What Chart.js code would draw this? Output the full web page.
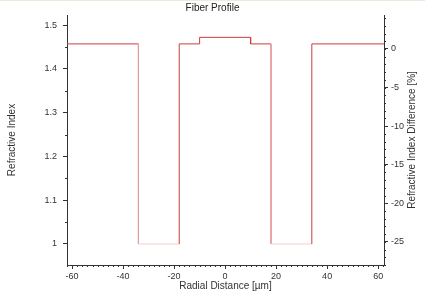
<!DOCTYPE html>
<html>
<head>
<meta charset="utf-8">
<script src="https://cdn.jsdelivr.net/npm/chart.js@4.4.0/dist/chart.umd.min.js"></script>
<style>
  html, body { margin: 0; padding: 0; background: #fff; }
  #wrap { width: 425px; height: 298px; position: relative; border-top: 1px solid #ecebdc; box-sizing: border-box; }
</style>
</head>
<body>
<div id="wrap"><canvas id="profile"></canvas></div>
<script>
// region boundaries (um) and refractive index of each region between them
const radius = [-62, -34, -18, -10, 10, 18, 34, 62.3];
const index = [1.457, 1.0, 1.457, 1.472, 1.457, 1.0, 1.457];

// tick labels
const xTicks = [-60, -40, -20, 0, 20, 40, 60];
const yTicks = [1.0, 1.1, 1.2, 1.3, 1.4, 1.5];
const y2Ticks = [-25, -20, -15, -10, -5, 0];

// minor ticks
const xMinor = [];
for (let v = -62; v <= 62; v += 2) xMinor.push(v);
const yMinor = [0.95, 1.05, 1.15, 1.25, 1.35, 1.45];
const y2Minor = [];
for (let v = -28; v <= 4; v++) y2Minor.push(v);

const red = '#cc3b3b';
const pink = '#e49a9a';
const lightPink = '#f6cccc';

// step outline: corner points from the regions
const points = [];
for (let i = 0; i < index.length; i++) {
  points.push({ x: radius[i], y: index[i] });
  points.push({ x: radius[i + 1], y: index[i] });
}

const font = { family: 'Liberation Sans, Arial, sans-serif', size: 10 };
const tickFont = { family: font.family, size: 9 };

const minorTicks = {
  id: 'minorTicks',
  afterDraw(chart) {
    const ctx = chart.ctx;
    ctx.save();
    ctx.strokeStyle = '#333';
    ctx.lineWidth = 1;
    const draw = (scale, list, dir) => {
      list.forEach(v => {
        if (v < scale.min || v > scale.max) return;
        const p = Math.round(scale.getPixelForValue(v)) + 0.5;
        ctx.beginPath();
        if (dir === 'bottom') {
          const y = chart.chartArea.bottom;
          ctx.moveTo(p, y); ctx.lineTo(p, y + 2);
        } else if (dir === 'left') {
          const x = chart.chartArea.left;
          ctx.moveTo(x, p); ctx.lineTo(x - 2, p);
        } else {
          const x = chart.chartArea.right;
          ctx.moveTo(x, p); ctx.lineTo(x + 2, p);
        }
        ctx.stroke();
      });
    };
    draw(chart.scales.x, xMinor, 'bottom');
    draw(chart.scales.y, yMinor, 'left');
    draw(chart.scales.y2, y2Minor, 'right');
    ctx.restore();

    // right axis title reads bottom to top, like the left one
    const a = chart.chartArea;
    ctx.save();
    ctx.setTransform(1, 0, 0, 1, 0, 0);
    ctx.translate(chart.width - 13, (a.top + a.bottom) / 2);
    ctx.rotate(-Math.PI / 2);
    ctx.fillStyle = '#333';
    ctx.font = font.size + 'px ' + font.family;
    ctx.textAlign = 'center';
    ctx.textBaseline = 'middle';
    ctx.fillText('Refractive Index Difference [%]', 0, 0);
    ctx.restore();
  }
};

new Chart(document.getElementById('profile'), {
  type: 'line',
  data: {
    datasets: [{
      label: 'Index',
      data: points,
      borderColor: red,
      borderWidth: 1,
      pointRadius: 0,
      fill: false,
      tension: 0,
      segment: {
        borderColor: c => {
          const a = c.p0.parsed, b = c.p1.parsed;
          if (a.x === b.x && b.y < a.y && b.y < 1.2) return pink;
          if (a.x !== b.x && a.y < 1.2) return lightPink;
          return red;
        }
      }
    }]
  },
  options: {
    responsive: true,
    maintainAspectRatio: false,
    animation: false,
    layout: { padding: 0 },
    plugins: {
      legend: { display: false },
      tooltip: { enabled: false },
      title: {
        display: true,
        text: 'Fiber Profile',
        color: '#222',
        font: { family: font.family, size: 10, weight: 'normal' },
        padding: { top: 1, bottom: 1 }
      }
    },
    scales: {
      x: {
        type: 'linear',
        min: -62,
        max: 62.3,
        afterBuildTicks: s => { s.ticks = xTicks.map(v => ({ value: v })); },
        afterFit: s => { s.height = 33; },
        grid: { drawOnChartArea: false, tickLength: 4, color: '#333' },
        border: { color: '#333' },
        ticks: { color: '#333', font: tickFont, padding: 2, maxRotation: 0 },
        title: { display: true, text: 'Radial Distance [µm]', color: '#333', font: font, padding: { top: 0, bottom: 6 } }
      },
      y: {
        type: 'linear',
        position: 'left',
        min: 0.952,
        max: 1.523,
        afterBuildTicks: s => { s.ticks = yTicks.map(v => ({ value: v })); },
        afterFit: s => { s.width = 67; },
        grid: { drawOnChartArea: false, tickLength: 4, color: '#333' },
        border: { color: '#333' },
        ticks: { color: '#333', font: tickFont, padding: 6, callback: v => String(Number(v.toFixed(2))) },
        title: { display: true, text: 'Refractive Index', color: '#333', font: font, padding: { top: 6, bottom: 0 } }
      },
      y2: {
        type: 'linear',
        position: 'right',
        min: -28,
        max: 4.4,
        afterBuildTicks: s => { s.ticks = y2Ticks.map(v => ({ value: v })); },
        afterFit: s => { s.width = 41; },
        grid: { drawOnChartArea: false, tickLength: 4, color: '#333' },
        border: { color: '#333' },
        ticks: { color: '#333', font: tickFont, padding: 3 }
      }
    }
  },
  plugins: [minorTicks]
});
</script>
</body>
</html>
